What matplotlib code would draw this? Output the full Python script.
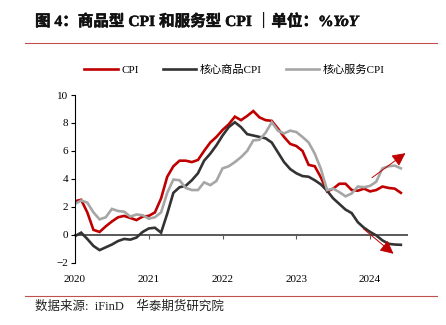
import numpy as np
import matplotlib
matplotlib.use("Agg")
import matplotlib.pyplot as plt
import matplotlib.patheffects as pe
from matplotlib.lines import Line2D

# monthly, Jan 2020 - Jun 2024
cpi = [2.4, 2.5, 1.6, 0.35, 0.2, 0.6, 0.95, 1.25, 1.35, 1.2, 1.05, 1.3,
       1.35, 1.6, 2.6, 4.15, 4.9, 5.3, 5.3, 5.2, 5.35, 6.0, 6.6, 7.0,
       7.5, 7.9, 8.45, 8.2, 8.5, 8.85, 8.4, 8.2, 8.15, 7.6, 7.0, 6.5,
       6.35, 6.0, 5.0, 4.9, 4.1, 3.1, 3.3, 3.65, 3.65, 3.2, 3.15, 3.3,
       3.1, 3.2, 3.45, 3.35, 3.3, 3.0]
core_goods = [-0.1, 0.15, -0.3, -0.8, -1.1, -0.9, -0.7, -0.45, -0.3, -0.35, -0.2, 0.2,
              0.45, 0.5, 0.15, 1.5, 3.0, 3.4, 3.5, 3.9, 4.4, 5.3, 5.8, 6.4,
              7.1, 7.7, 8.05, 7.7, 7.2, 7.1, 7.0, 6.9, 6.6, 5.9, 5.2, 4.7,
              4.4, 4.2, 4.15, 3.9, 3.6, 3.15, 2.6, 2.2, 1.8, 1.55, 0.9, 0.5,
              0.2, -0.05, -0.4, -0.65, -0.7, -0.72]
core_services = [2.2, 2.45, 2.3, 1.6, 1.1, 1.25, 1.85, 1.7, 1.65, 1.3, 1.45, 1.4,
                 1.15, 1.25, 1.6, 3.0, 3.95, 3.9, 3.35, 3.2, 3.2, 3.75, 3.55, 3.85,
                 4.75, 4.9, 5.2, 5.55, 6.0, 6.75, 6.8, 7.3, 8.05, 7.45, 7.25, 7.45,
                 7.35, 7.0, 6.6, 5.8, 4.7, 3.2, 3.3, 3.05, 2.75, 2.95, 3.45, 3.4,
                 3.5, 3.8, 4.75, 4.9, 4.95, 4.75]
years = ["2020", "2021", "2022", "2023", "2024"]
names = ["CPI", "核心商品CPI", "核心服务CPI"]
colors = ["#C00000", "#333333", "#A6A6A6"]

fam = ["Liberation Serif", "Noto Sans CJK SC"]
plt.rcParams["font.family"] = fam

fig = plt.figure(figsize=(4.46, 3.25), dpi=100)
ax = fig.add_axes([75 / 446, 1 - 262.7 / 325, 332 / 446, 167.7 / 325])

x = np.arange(len(cpi))
for s, n, c in zip([cpi, core_goods, core_services], names, colors):
    ax.plot(x, s, color=c, lw=1.9, label=n, solid_joinstyle="miter")

ax.set_xlim(0, 54)
ax.set_ylim(-2, 10)
ax.set_yticks(range(-2, 11, 2))
ax.set_xticks(range(0, 54, 12))
ax.set_xticklabels(years)
ax.tick_params(axis="x", length=0, pad=9, labelsize=8)
ax.tick_params(axis="y", length=3, width=0.8, labelsize=8, pad=2)
for sp in ["top", "right", "bottom"]:
    ax.spines[sp].set_visible(False)
ax.spines["left"].set_linewidth(0.8)

# zero line with year ticks
sec = ax.secondary_xaxis(2 / 12)
sec.set_xticks(range(0, 54, 12))
sec.tick_params(axis="x", length=3, width=0.8, color="#595959", labelbottom=False)
sec.spines["bottom"].set_color("#595959")
sec.spines["bottom"].set_linewidth(1.4)

# trend arrows
arw = dict(arrowstyle="-|>,head_length=0.8,head_width=0.4", color="#C00000", lw=0.7,
           shrinkA=0, shrinkB=0)
ax.annotate("", xy=(53.75, 5.84), xytext=(48.3, 4.08), arrowprops=arw)
ax.annotate("", xy=(51.8, -1.36), xytext=(46.9, 0.43), arrowprops=arw)

ax.legend(loc="lower center", bbox_to_anchor=(0.48, 1.06), ncol=3, frameon=False,
          handlelength=3.0, columnspacing=2.2, handletextpad=0.3,
          prop={"family": fam, "size": 8})

# title, bold look via light stroke
bold = [pe.withStroke(linewidth=0.35, foreground="#111111")]
t1 = fig.text(35 / 446, 1 - 22 / 325, "图 4：商品型 CPI 和服务型 CPI ｜单位：%",
              fontsize=11.2, fontweight="bold", va="center", ha="left", family=fam,
              color="#111111", path_effects=bold)
fig.canvas.draw()
bb = t1.get_window_extent()
fig.text(bb.x1 / fig.bbox.width, 1 - 22 / 325, "YoY", fontsize=11.2, fontweight="bold",
         style="italic", va="center", ha="left", family="Liberation Serif",
         color="#111111", path_effects=bold)

fig.add_artist(Line2D([25 / 446, 437 / 446], [1 - 43 / 325] * 2, color="#C0504D", lw=0.8))
fig.add_artist(Line2D([25 / 446, 437 / 446], [1 - 295.5 / 325] * 2, color="#C0504D", lw=0.8))
fig.text(35 / 446, 1 - 307 / 325, "数据来源:  iFinD    华泰期货研究院", fontsize=9,
         va="center", ha="left", family=fam, color="#222222")

fig.savefig("out.png", dpi=100)
